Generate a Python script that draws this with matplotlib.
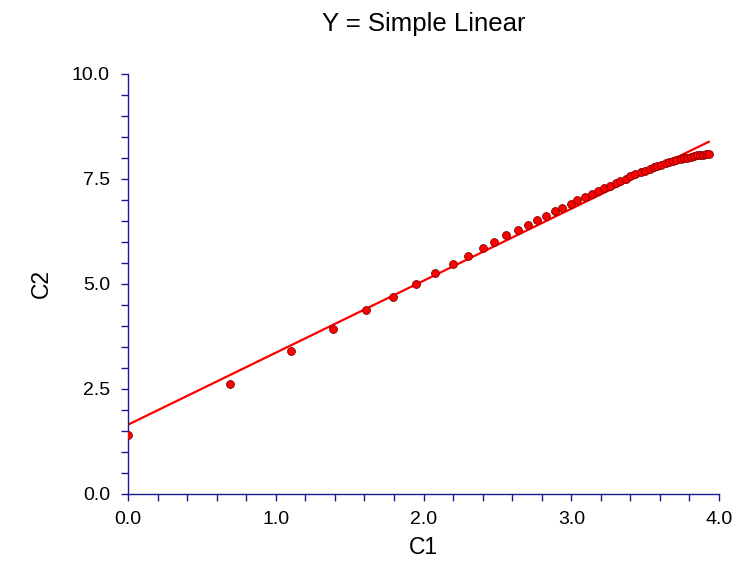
import numpy as np
import matplotlib
matplotlib.use('Agg')
import matplotlib.pyplot as plt
from matplotlib.ticker import MultipleLocator, FormatStrFormatter

plt.rcParams['font.family'] = ['Liberation Sans', 'DejaVu Sans']

# data
c1 = [0.00, 0.69, 1.10, 1.39, 1.61, 1.79, 1.95, 2.08, 2.20, 2.30,
      2.40, 2.48, 2.56, 2.64, 2.71, 2.77, 2.83, 2.89, 2.94, 3.00,
      3.04, 3.09, 3.14, 3.18, 3.22, 3.26, 3.30, 3.33, 3.37, 3.40,
      3.43, 3.47, 3.50, 3.53, 3.56, 3.58, 3.61, 3.64, 3.66, 3.69,
      3.71, 3.74, 3.76, 3.78, 3.81, 3.83, 3.85, 3.87, 3.89, 3.91,
      3.93]
c2 = [1.40, 2.62, 3.40, 3.93, 4.38, 4.70, 5.00, 5.25, 5.47, 5.66,
      5.85, 6.01, 6.16, 6.29, 6.41, 6.52, 6.63, 6.73, 6.82, 6.91,
      6.99, 7.07, 7.14, 7.21, 7.28, 7.34, 7.40, 7.46, 7.51, 7.56,
      7.61, 7.66, 7.70, 7.74, 7.78, 7.81, 7.84, 7.87, 7.90, 7.92,
      7.95, 7.97, 7.99, 8.01, 8.03, 8.05, 8.06, 8.07, 8.08, 8.09,
      8.10]

x = np.array(c1)
y = np.array(c2)
slope, intercept = np.polyfit(x, y, 1)
xf = np.array([x.min(), x.max()])

navy = '#1a1a8c'

fig = plt.figure(figsize=(7.32, 5.63), dpi=100)
ax = fig.add_axes([0.1749, 0.1226, 0.8074, 0.7460])

ax.plot(xf, intercept + slope * xf, color='red', lw=1.6, zorder=2)
ax.scatter(x, y, s=32, color='red', edgecolor='#7a0000', linewidth=0.6, zorder=3)

ax.set_xlim(0, 4)
ax.set_ylim(0, 10)
ax.xaxis.set_major_locator(MultipleLocator(1.0))
ax.xaxis.set_minor_locator(MultipleLocator(0.2))
ax.yaxis.set_major_locator(MultipleLocator(2.5))
ax.yaxis.set_minor_locator(MultipleLocator(0.5))
ax.xaxis.set_major_formatter(FormatStrFormatter('%.1f'))
ax.yaxis.set_major_formatter(FormatStrFormatter('%.1f'))

for s in ['top', 'right']:
    ax.spines[s].set_visible(False)
for s in ['left', 'bottom']:
    ax.spines[s].set_color(navy)
    ax.spines[s].set_linewidth(1.0)
ax.tick_params(which='both', direction='out', color=navy, length=5, width=1.0,
               labelsize=14, labelcolor='black')
ax.tick_params(axis='x', which='major', pad=7)
ax.tick_params(axis='y', which='major', pad=8)

ax.set_xlabel('C1', fontsize=16.5, labelpad=6)
ax.set_ylabel('C2', fontsize=16.5, labelpad=14)
ax.set_title('Y = Simple Linear', fontsize=18.5, pad=31)

fig.savefig('out.png', dpi=100)
